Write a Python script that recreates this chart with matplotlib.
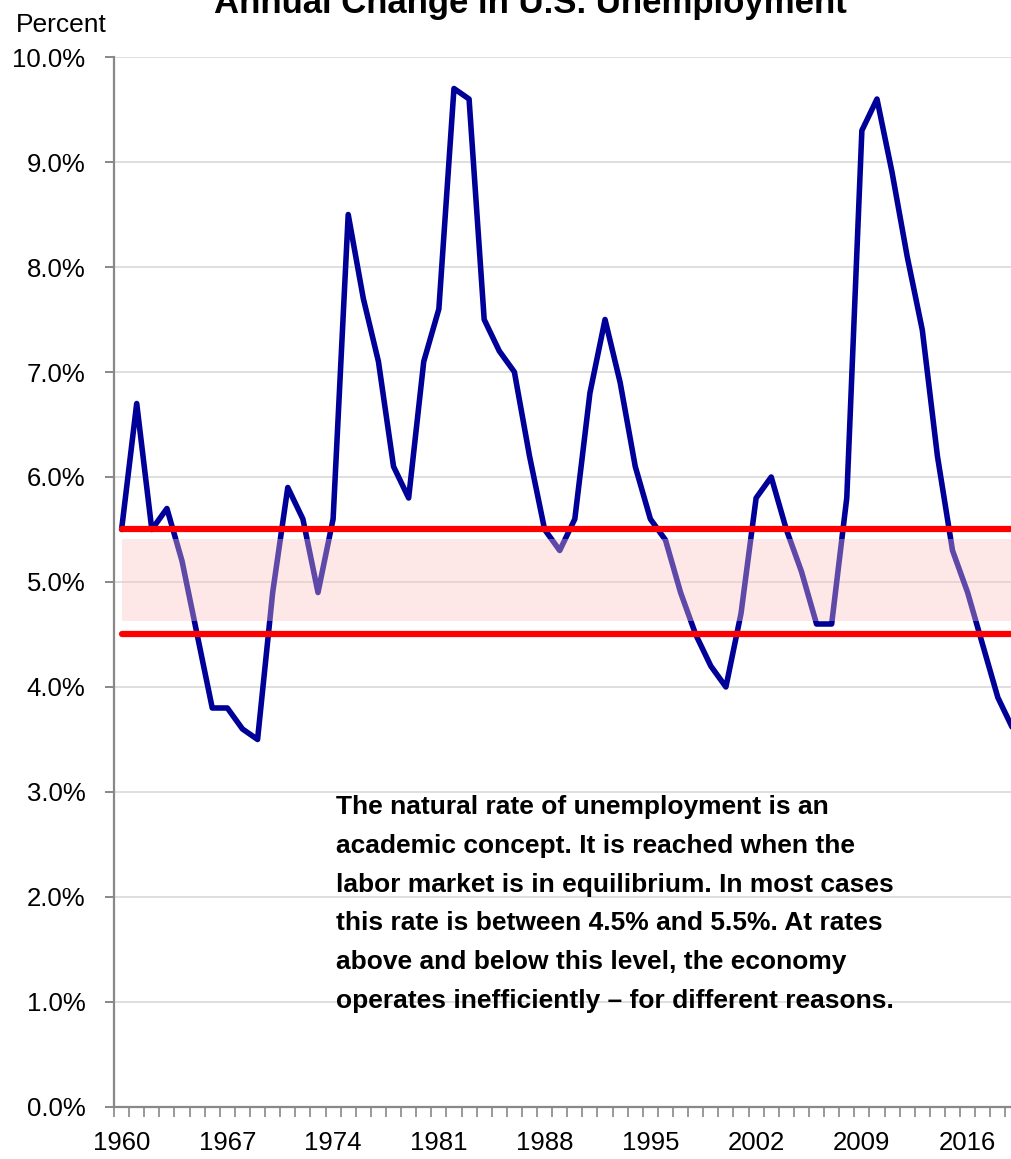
import numpy as np
import matplotlib
matplotlib.use("Agg")
import matplotlib.pyplot as plt
from matplotlib.ticker import FixedLocator, FuncFormatter

# annual U.S. unemployment rate (%)
years = list(range(1960, 2020))
unemployment = [5.5, 6.7, 5.5, 5.7, 5.2, 4.5, 3.8, 3.8, 3.6, 3.5,
                4.9, 5.9, 5.6, 4.9, 5.6, 8.5, 7.7, 7.1, 6.1, 5.8,
                7.1, 7.6, 9.7, 9.6, 7.5, 7.2, 7.0, 6.2, 5.5, 5.3,
                5.6, 6.8, 7.5, 6.9, 6.1, 5.6, 5.4, 4.9, 4.5, 4.2,
                4.0, 4.7, 5.8, 6.0, 5.5, 5.1, 4.6, 4.6, 5.8, 9.3,
                9.6, 8.9, 8.1, 7.4, 6.2, 5.3, 4.9, 4.4, 3.9, 3.6]
natural_low = 4.5
natural_high = 5.5
band_low = 4.63
band_high = 5.41
label_years = [1960, 1967, 1974, 1981, 1988, 1995, 2002, 2009, 2016]

plt.rcParams["font.family"] = ["Liberation Sans", "DejaVu Sans"]

fig = plt.figure(figsize=(10.11, 11.59), dpi=100)
ax = fig.add_axes([0.1128, 0.0449, 0.8966, 0.9059])

ax.plot(years, unemployment, color="#000099", lw=4.0, solid_joinstyle="round",
        solid_capstyle="round", zorder=3)

# shaded natural-rate zone drawn over the line
ax.fill_between([years[0], years[-1] + 0.5], band_low, band_high,
                color="#FAC2C2", alpha=0.38, lw=0, zorder=4)

ax.plot(years, [natural_high] * len(years), color="#FF0000", lw=4.5,
        solid_capstyle="round", zorder=5)
ax.plot(years, [natural_low] * len(years), color="#FF0000", lw=4.5,
        solid_capstyle="round", zorder=5)

ax.set_xlim(1959.5, 2019.5)
ax.set_ylim(0, 10)

ax.set_yticks(np.arange(0, 10.01, 1))
ax.yaxis.set_major_formatter(FuncFormatter(lambda v, p: f"{v:.1f}%"))
ax.grid(axis="y", color="#D9D9D9", lw=1.2, zorder=0)
ax.set_axisbelow(True)

ax.set_xticks(label_years)
ax.xaxis.set_minor_locator(FixedLocator(np.arange(1959.5, 2020, 1)))
ax.tick_params(axis="x", which="major", length=0, pad=17, labelsize=18.5)
ax.tick_params(axis="x", which="minor", length=7.5, width=1.2, color="#888888")
ax.tick_params(axis="y", length=6.5, width=1.4, color="#888888", pad=14,
               labelsize=18.5)

for s in ["top", "right"]:
    ax.spines[s].set_visible(False)
for s in ["left", "bottom"]:
    ax.spines[s].set_color("#888888")
    ax.spines[s].set_linewidth(1.6)

note = ("The natural rate of unemployment is an\n"
        "academic concept. It is reached when the\n"
        "labor market is in equilibrium. In most cases\n"
        "this rate is between 4.5% and 5.5%. At rates\n"
        "above and below this level, the economy\n"
        "operates inefficiently \u2013 for different reasons.")
fig.text(336 / 1011, 1 - 795 / 1159, note, fontsize=19, fontweight="bold",
         ha="left", va="top", linespacing=1.78)

fig.text(16 / 1011, 1 - 32 / 1159, "Percent", fontsize=19, ha="left",
         va="baseline")
fig.text(530 / 1011, 1 - 13 / 1159, "Annual Change in U.S. Unemployment",
         fontsize=25, fontweight="bold", ha="center", va="baseline")

fig.savefig("out.png", dpi=100)
